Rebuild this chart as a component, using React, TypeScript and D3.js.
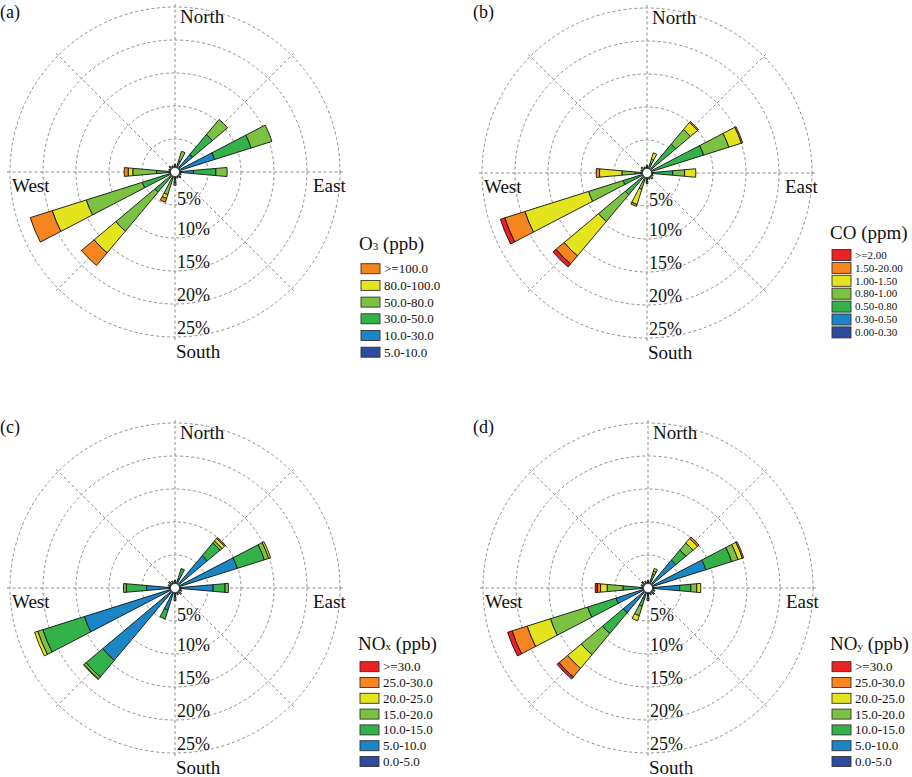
import * as d3 from 'd3';

const directions = ['N', 'NNE', 'NE', 'ENE', 'E', 'ESE', 'SE', 'SSE', 'S', 'SSW', 'SW', 'WSW', 'W', 'WNW', 'NW', 'NNW'];
const ringTicks = [5, 10, 15, 20, 25];

// bin colours, lowest bin first
const sixColors = ['#2e4c9f', '#1b86c6', '#33b24a', '#7cc242', '#e3e31e', '#f6841f'];
const sevenColors = ['#2e4c9f', '#1b86c6', '#33b24a', '#7cc242', '#e3e31e', '#f6841f', '#ed2024'];

const o3Bins = ['5.0-10.0', '10.0-30.0', '30.0-50.0', '50.0-80.0', '80.0-100.0', '>=100.0'];
const coBins = ['0.00-0.30', '0.30-0.50', '0.50-0.80', '0.80-1.00', '1.00-1.50', '1.50-20.00', '>=2.00'];
const noxBins = ['0.0-5.0', '5.0-10.0', '10.0-15.0', '15.0-20.0', '20.0-25.0', '25.0-30.0', '>=30.0'];
const noyBins = ['0.0-5.0', '5.0-10.0', '10.0-15.0', '15.0-20.0', '20.0-25.0', '25.0-30.0', '>=30.0'];

// frequency (%) by direction (rows follow `directions`) and bin (columns, low -> high)
const o3Freq = [
  [0.2, 0.3, 0.5, 0.2, 0, 0],
  [0.2, 0.4, 1.2, 1.5, 0, 0],
  [0.3, 3.2, 3.9, 3.0, 0, 0],
  [0.4, 5.9, 5.8, 3.3, 0, 0],
  [0.4, 2.4, 3.4, 1.7, 0, 0],
  [0.2, 0.4, 0.4, 0, 0, 0],
  [0.2, 0.4, 0.4, 0.2, 0, 0],
  [0.2, 0.3, 0.4, 0.1, 0, 0],
  [0.3, 0.5, 0.8, 0.4, 0, 0],
  [0.2, 0.3, 0.5, 2.6, 0.6, 0.6],
  [0.2, 0.5, 3.3, 7.7, 4.3, 2.5],
  [0.2, 0.6, 4.4, 8.9, 5.4, 3.5],
  [0.2, 0.3, 2.3, 3.6, 0.7, 0.6],
  [0.2, 0.3, 0.4, 0.1, 0, 0],
  [0.2, 0.4, 0.4, 0.2, 0, 0],
  [0.2, 0.3, 0.4, 0.1, 0, 0],
];

const coFreq = [
  [0.1, 0.3, 0.5, 0.2, 0.1, 0, 0],
  [0.1, 0.3, 1.2, 0.6, 1.0, 0, 0],
  [0.1, 0.4, 5.2, 2.9, 1.4, 0.2, 0],
  [0.1, 0.5, 8.4, 4.0, 2.0, 0.2, 0],
  [0.1, 0.4, 3.4, 1.8, 1.7, 0, 0],
  [0.1, 0.3, 0.4, 0.2, 0, 0, 0],
  [0.1, 0.3, 0.5, 0.2, 0.1, 0, 0],
  [0.1, 0.3, 0.4, 0.2, 0, 0, 0],
  [0.1, 0.3, 0.7, 0.3, 0.2, 0, 0],
  [0.1, 0.2, 0.9, 1.4, 2.4, 0.3, 0],
  [0.1, 0.3, 3.9, 5.3, 6.8, 1.6, 0.6],
  [0.1, 0.3, 3.4, 5.5, 10.1, 3.2, 0.7],
  [0.1, 0.3, 1.4, 2.0, 3.4, 0.5, 0],
  [0.1, 0.3, 0.4, 0.2, 0, 0, 0],
  [0.1, 0.3, 0.5, 0.2, 0.1, 0, 0],
  [0.1, 0.3, 0.4, 0.2, 0, 0, 0],
];

const noxFreq = [
  [0.2, 0.6, 0.4, 0, 0, 0, 0],
  [0.2, 1.3, 1.6, 0, 0, 0, 0],
  [0.3, 6.1, 2.5, 0.4, 0.5, 0.2, 0],
  [0.3, 9.6, 4.3, 0.7, 0.3, 0, 0],
  [0.3, 5.5, 1.8, 0.5, 0, 0, 0],
  [0.2, 0.6, 0.3, 0, 0, 0, 0],
  [0.2, 0.7, 0.4, 0, 0, 0, 0],
  [0.2, 0.6, 0.3, 0, 0, 0, 0],
  [0.3, 1.0, 0.6, 0, 0, 0, 0],
  [0.2, 3.3, 1.4, 0, 0, 0, 0],
  [0.3, 14.0, 3.3, 0.4, 0.1, 0, 0],
  [0.3, 14.1, 6.6, 0.8, 0.5, 0, 0],
  [0.3, 4.0, 3.1, 0.4, 0, 0, 0],
  [0.2, 0.6, 0.3, 0, 0, 0, 0],
  [0.2, 0.7, 0.4, 0, 0, 0, 0],
  [0.2, 0.6, 0.3, 0, 0, 0, 0],
];

const noyFreq = [
  [0.2, 0.5, 0.3, 0.2, 0, 0, 0],
  [0.2, 1.0, 1.0, 0.5, 0.4, 0, 0],
  [0.3, 5.2, 2.0, 1.4, 0.9, 0.3, 0],
  [0.3, 8.9, 4.1, 1.0, 0.7, 0.2, 0],
  [0.3, 4.5, 1.7, 0.9, 0.6, 0, 0],
  [0.2, 0.5, 0.3, 0.1, 0, 0, 0],
  [0.2, 0.6, 0.4, 0.1, 0, 0, 0],
  [0.2, 0.5, 0.3, 0.1, 0, 0, 0],
  [0.3, 0.8, 0.5, 0.3, 0, 0, 0],
  [0.2, 1.5, 1.2, 1.5, 0.8, 0, 0],
  [0.3, 4.6, 4.1, 4.2, 2.7, 1.7, 0.4],
  [0.3, 4.8, 4.5, 5.9, 3.7, 2.4, 0.7],
  [0.2, 0.8, 2.8, 2.4, 1.0, 0.5, 0.3],
  [0.2, 0.5, 0.3, 0.1, 0, 0, 0],
  [0.2, 0.6, 0.4, 0.1, 0, 0, 0],
  [0.2, 0.5, 0.3, 0.1, 0, 0, 0],
];

const FONT = "'Liberation Serif', 'Times New Roman', serif";
const GRID = '#8e8e8e';

interface PanelProps {
  tag: string;
  tagX: number;
  tagY: number;
  cx: number;
  cy: number;
  freq: number[][];
  colors: string[];
  bins: string[];
  title: [string, string, string];
  legendX: number;
  titleY: number;
  rowY: number;
  rowStep: number;
  boxH: number;
  legendFont: number;
}

function RosePanel(p: PanelProps) {
  const r = d3.scaleLinear().domain([0, 25]).range([0, 165]);
  const half = (5 * Math.PI) / 180;
  const arc = d3.arc<any>();

  const segments: { d: string; fill: string }[] = [];
  p.freq.forEach((row, i) => {
    const a = (i * 360 / directions.length * Math.PI) / 180;
    const cum = [0, ...d3.cumsum(row)];
    row.forEach((v, j) => {
      if (v <= 0) return;
      segments.push({
        d: arc({
          innerRadius: r(cum[j]),
          outerRadius: r(cum[j + 1]),
          startAngle: a - half,
          endAngle: a + half,
        }) as string,
        fill: p.colors[j],
      });
    });
  });

  const spokeLen = 169;
  const legendRows = p.bins.map((b, j) => ({ label: b, color: p.colors[j] })).reverse();

  return (
    <g fontFamily={FONT} fill="#111">
      <text x={p.tagX} y={p.tagY} fontSize={18}>{p.tag}</text>
      <g transform={`translate(${p.cx},${p.cy})`}>
        {ringTicks.map(t => (
          <circle key={t} r={r(t)} fill="none" stroke={GRID} strokeWidth={1} strokeDasharray="3,2.5" />
        ))}
        {d3.range(8).map(k => {
          const a = (k * Math.PI) / 4;
          return (
            <line key={k} x1={0} y1={0} x2={spokeLen * Math.sin(a)} y2={-spokeLen * Math.cos(a)}
              stroke={GRID} strokeWidth={1} strokeDasharray="3,2.5" />
          );
        })}
        {segments.map((s, i) => (
          <path key={i} d={s.d} fill={s.fill} stroke="#111" strokeWidth={0.9} strokeLinejoin="miter" />
        ))}
        <circle r={4.5} fill="#fff" stroke="#111" strokeWidth={0.6} />
        {ringTicks.map(t => (
          <text key={t} x={2} y={r(t) - (t === 5 ? 0 : 3)} fontSize={18}>{t}%</text>
        ))}
        <text x={5} y={-149} fontSize={19}>North</text>
        <text x={1} y={186} fontSize={19}>South</text>
        <text x={-163} y={20} fontSize={19}>West</text>
        <text x={138} y={20} fontSize={19}>East</text>
      </g>
      <text x={p.legendX} y={p.titleY} fontSize={19}>
        {p.title[0]}
        <tspan fontSize={11}>{p.title[1]}</tspan>
        {p.title[2]}
      </text>
      {legendRows.map((row, i) => {
        const y = p.rowY + i * p.rowStep;
        return (
          <g key={row.label}>
            <rect x={p.legendX + 2} y={y - p.boxH / 2} width={19} height={p.boxH} fill={row.color}
              stroke="#333" strokeWidth={0.9} />
            <text x={p.legendX + 25} y={y + p.legendFont * 0.34} fontSize={p.legendFont}>{row.label}</text>
          </g>
        );
      })}
    </g>
  );
}

export default function App() {
  return (
    <svg width={912} height={777} style={{ position: 'absolute', left: 0, top: 0, background: '#fff' }}>
      <rect width={912} height={777} fill="#fff" />
      <RosePanel tag="(a)" tagX={0} tagY={18} cx={175} cy={172} freq={o3Freq} colors={sixColors} bins={o3Bins}
        title={['O', '3', ' (ppb)']} legendX={359} titleY={250} rowY={268.7} rowStep={16.7} boxH={10} legendFont={13} />
      <RosePanel tag="(b)" tagX={473} tagY={18} cx={647} cy={173} freq={coFreq} colors={sevenColors} bins={coBins}
        title={['CO (ppm)', '', '']} legendX={830} titleY={239} rowY={255} rowStep={12.9} boxH={11} legendFont={11} />
      <RosePanel tag="(c)" tagX={0} tagY={433} cx={175} cy={588} freq={noxFreq} colors={sevenColors} bins={noxBins}
        title={['NO', 'x', ' (ppb)']} legendX={358} titleY={650} rowY={666.7} rowStep={15.8} boxH={10} legendFont={13} />
      <RosePanel tag="(d)" tagX={473} tagY={433} cx={648} cy={588} freq={noyFreq} colors={sevenColors} bins={noyBins}
        title={['NO', 'y', ' (ppb)']} legendX={830} titleY={650} rowY={666.7} rowStep={15.8} boxH={10} legendFont={13} />
    </svg>
  );
}
